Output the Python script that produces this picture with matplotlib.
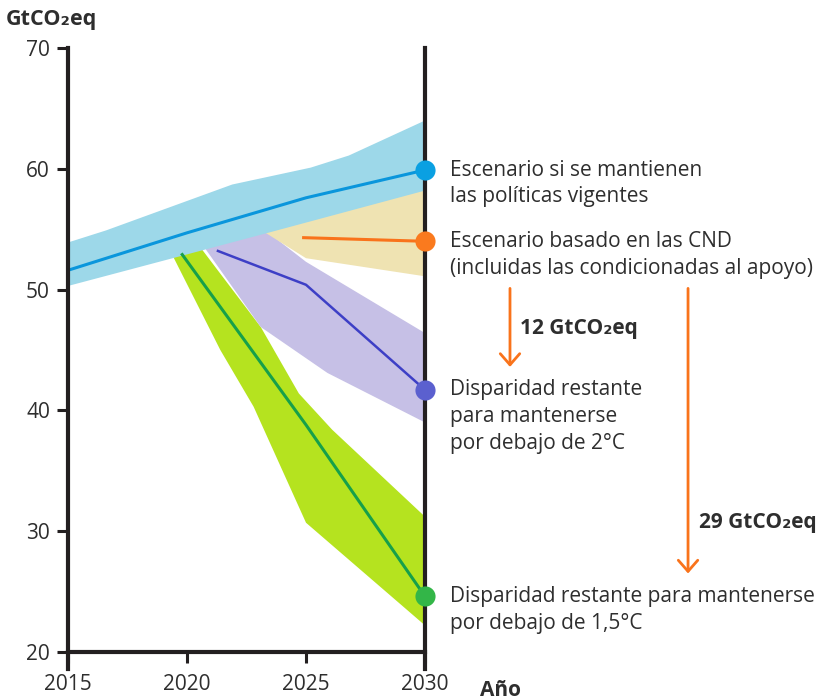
import matplotlib.pyplot as plt

plt.rcParams['font.family'] = ['Open Sans', 'DejaVu Sans']

# politicas vigentes: banda (sup/inf) y mediana
vig_sup_x = [2015, 2016.6, 2021.9, 2025.2, 2026.8, 2030]
vig_sup_y = [53.9, 54.9, 58.7, 60.1, 61.1, 64.0]
vig_inf_x = [2015, 2019.4, 2023.4, 2030]
vig_inf_y = [50.3, 52.6, 54.7, 58.2]
vig_x = [2015, 2020, 2025, 2030]
vig_y = [51.6, 54.7, 57.6, 59.9]

# escenario CND
cnd_sup_x = [2023.0, 2030]
cnd_sup_y = [54.9, 58.4]
cnd_inf_x = [2023.3, 2025, 2030]
cnd_inf_y = [54.7, 52.6, 51.1]
cnd_x = [2024.9, 2030]
cnd_y = [54.3, 54.0]

# 2 grados
dos_sup_x = [2020.8, 2023.3, 2025.0, 2030]
dos_sup_y = [53.6, 54.9, 52.3, 46.4]
dos_inf_x = [2020.8, 2023.1, 2025.9, 2030]
dos_inf_y = [53.3, 46.9, 43.1, 39.0]
dos_x = [2021.3, 2025, 2030]
dos_y = [53.2, 50.4, 41.7]

# 1,5 grados
uno_sup_x = [2020.6, 2023.1, 2024.7, 2026.1, 2030]
uno_sup_y = [53.4, 46.9, 41.4, 38.4, 31.2]
uno_inf_x = [2019.4, 2021.4, 2022.8, 2025.0, 2030]
uno_inf_y = [52.8, 45.0, 40.3, 30.7, 22.2]
uno_x = [2019.8, 2025, 2030]
uno_y = [52.9, 38.8, 24.6]

# brechas
brecha_2 = [50.1, 43.6]
brecha_15 = [50.1, 26.5]

oscuro = '#2e2e2e'
naranja = '#f9731b'


def banda(ax, sx, sy, ix, iy, color):
    ax.fill(list(sx) + ix[::-1], list(sy) + iy[::-1], color=color, lw=0, zorder=1)


fig = plt.figure(figsize=(8.24, 7.0), dpi=100)
ax = fig.add_axes([0.0825, 0.0686, 0.4333, 0.8628])

banda(ax, uno_sup_x, uno_sup_y, uno_inf_x, uno_inf_y, '#b5e31f')
banda(ax, dos_sup_x, dos_sup_y, dos_inf_x, dos_inf_y, '#c6c0e6')
banda(ax, cnd_sup_x, cnd_sup_y, cnd_inf_x, cnd_inf_y, '#efe3b2')
banda(ax, vig_sup_x, vig_sup_y, vig_inf_x, vig_inf_y, '#9dd8e9')

ax.plot(uno_x, uno_y, color='#16a04a', lw=2.2, zorder=2)
ax.plot(dos_x, dos_y, color='#3d3fc6', lw=1.8, zorder=2)
ax.plot(cnd_x, cnd_y, color=naranja, lw=2.2, zorder=2)
ax.plot(vig_x, vig_y, color='#0a96dc', lw=2.2, zorder=2)

marcadores = [(vig_y[-1], '#0aa0e2'), (cnd_y[-1], '#fa7a1e'),
              (dos_y[-1], '#5b60cf'), (uno_y[-1], '#33b648')]
for yv, c in marcadores:
    ax.plot([2030], [yv], 'o', color=c, ms=14.5, mec='none', zorder=5, clip_on=False)

textos = [
    (vig_y[-1], ['Escenario si se mantienen', 'las políticas vigentes']),
    (cnd_y[-1], ['Escenario basado en las CND', '(incluidas las condicionadas al apoyo)']),
    (dos_y[-1], ['Disparidad restante', 'para mantenerse', 'por debajo de 2°C']),
    (uno_y[-1], ['Disparidad restante para mantenerse', 'por debajo de 1,5°C']),
]
for yv, lineas in textos:
    for i, t in enumerate(lineas):
        ax.annotate(t, xy=(2030, yv), xytext=(18, -i * 19.3), textcoords='offset points',
                    va='center', ha='left', fontsize=15, color=oscuro,
                    annotation_clip=False)

# flechas de brecha
for xa, (y0, y1) in [(2033.57, brecha_2), (2041.05, brecha_15)]:
    ax.annotate('', xy=(xa, y1), xytext=(xa, y0), annotation_clip=False,
                arrowprops=dict(arrowstyle='->,head_length=0.4,head_width=0.35',
                                mutation_scale=20, color=naranja, lw=2,
                                shrinkA=0, shrinkB=0))
ax.text(2034.0, 46.8, '12 GtCO₂eq', fontsize=15, fontweight='bold', color=oscuro,
        va='center', clip_on=False)
ax.text(2041.5, 30.7, '29 GtCO₂eq', fontsize=15, fontweight='bold', color=oscuro,
        va='center', clip_on=False)

ax.set_xlim(2015, 2030)
ax.set_ylim(20, 70)
ax.set_xticks([2015, 2020, 2025, 2030])
ax.set_yticks([20, 30, 40, 50, 60, 70])

ax.spines['top'].set_visible(False)
for s in ['left', 'right', 'bottom']:
    ax.spines[s].set_linewidth(3)
    ax.spines[s].set_color('#231f20')
ax.spines['left'].set_bounds(18.6, 70)
ax.spines['right'].set_bounds(18.6, 70)
ax.tick_params(axis='both', direction='out', length=8, width=2.2, color='#231f20',
               labelsize=15, labelcolor=oscuro)
ax.tick_params(axis='x', pad=8)
ax.tick_params(axis='y', pad=5)
ax.tick_params(right=False)

fig.text(0.007, 0.972, 'GtCO₂eq', fontsize=15.5, fontweight='bold', color=oscuro, va='center')
fig.text(0.582, 0.013, 'Año', fontsize=15, fontweight='bold', color=oscuro, va='center')

fig.savefig('out.png', dpi=100)
